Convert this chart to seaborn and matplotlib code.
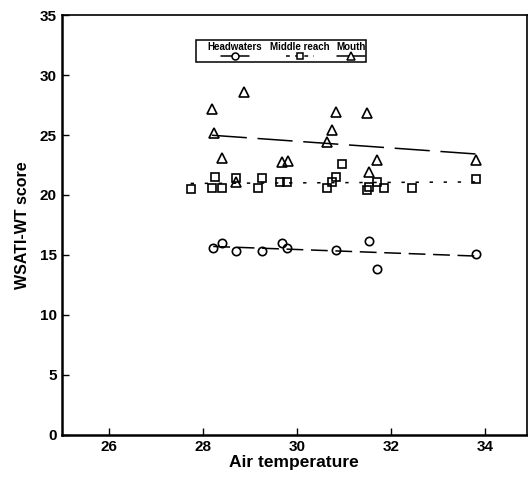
import numpy as np
import pandas as pd
import seaborn as sns
import matplotlib.pyplot as plt
from matplotlib.lines import Line2D
from matplotlib.patches import Rectangle

# Values
head_temp = [28.22, 28.41, 28.71, 29.26, 29.69, 29.79, 30.82, 31.53, 31.70, 33.80]
head_score = [15.6, 16.0, 15.3, 15.3, 16.0, 15.6, 15.4, 16.2, 13.8, 15.1]

mid_temp = [27.74, 28.25, 28.19, 28.40, 28.70, 29.26, 29.18, 29.65, 29.79, 30.96,
            30.84, 30.75, 30.63, 31.50, 31.53, 31.71, 31.85, 32.45, 33.80]
mid_score = [20.5, 21.5, 20.6, 20.6, 21.4, 21.4, 20.6, 21.1, 21.1, 22.6,
             21.5, 21.1, 20.6, 20.4, 20.7, 21.1, 20.6, 20.6, 21.3]

mouth_temp = [28.87, 28.19, 28.23, 28.40, 28.70, 29.68, 29.81, 30.83, 30.74, 30.64,
              31.49, 31.70, 31.53, 33.80]
mouth_score = [28.6, 27.2, 25.2, 23.1, 21.1, 22.75, 22.8, 26.9, 25.4, 24.4,
               26.8, 22.9, 21.9, 22.9]

sites = ["Headwaters", "Middle reach", "Mouth"]
x_ticks = [26, 28, 30, 32, 34]
y_ticks = [0, 5, 10, 15, 20, 25, 30, 35]

df = pd.DataFrame({
    "temp": head_temp + mid_temp + mouth_temp,
    "score": head_score + mid_score + mouth_score,
    "site": [sites[0]] * len(head_temp) + [sites[1]] * len(mid_temp) + [sites[2]] * len(mouth_temp),
})

sns.set_style("ticks")
plt.rcParams["font.family"] = ["Liberation Sans", "DejaVu Sans"]
plt.rcParams["font.weight"] = "bold"
plt.rcParams["text.color"] = "black"
plt.rcParams["axes.labelcolor"] = "black"

fig = plt.figure(figsize=(5.28, 4.78), dpi=100)
ax = fig.add_axes([0.117, 0.090, 0.881, 0.8786])

markers = {"Headwaters": "o", "Middle reach": "s", "Mouth": "^"}
sizes = {"Headwaters": 6, "Middle reach": 5.5, "Mouth": 6.5}
dashes = {"Headwaters": (0, (11, 5)), "Middle reach": (0, (2.2, 7)), "Mouth": (0, (23, 7))}

for s in sites:
    sub = df[df["site"] == s]
    sns.regplot(data=sub, x="temp", y="score", ax=ax, ci=None, scatter=False,
                line_kws=dict(color="black", lw=1.1, ls=dashes[s]))
    ax.plot(sub["temp"], sub["score"], ls="none", marker=markers[s], ms=sizes[s],
            mfc="none", mec="black", mew=1.2)

ax.set_xlim(25, 34.89)
ax.set_ylim(0, 35)
ax.set_xticks(x_ticks)
ax.set_yticks(y_ticks)
ax.tick_params(direction="in", length=5, width=1, labelsize=11, colors="black")
for lab in ax.get_xticklabels() + ax.get_yticklabels():
    lab.set_fontweight("bold")
for sp in ax.spines.values():
    sp.set_visible(True)
    sp.set_color("black")
    sp.set_linewidth(1.2)
ax.spines["left"].set_linewidth(1.8)
ax.spines["bottom"].set_linewidth(1.8)
ax.set_xlabel("Air temperature", fontsize=12.5, fontweight="bold", labelpad=1)
ax.set_ylabel("WSATI-WT score", fontsize=11.5, fontweight="bold", labelpad=7)

# legend: labels stacked over their line samples
tr = ax.transAxes
ax.add_patch(Rectangle((0.288, 0.888), 0.366, 0.052, transform=tr, fill=False,
                       ec="black", lw=1.1, zorder=5))
centers = [0.372, 0.512, 0.621]
for s, cx in zip(sites, centers):
    ax.text(cx, 0.924, s, transform=tr, ha="center", va="center",
            fontsize=7.0, fontweight="bold", zorder=6)
    ax.add_line(Line2D([cx - 0.03, cx + 0.03], [0.902, 0.902], transform=tr,
                       color="black", lw=1.1,
                       ls=(0, (2.5, 3.5)) if s == "Middle reach" else "-", zorder=6))
    ax.add_line(Line2D([cx], [0.902], transform=tr, ls="none", marker=markers[s],
                       ms=sizes[s] - 1, mfc="white", mec="black", mew=1.1, zorder=7))

fig.savefig("out.png", dpi=100)
